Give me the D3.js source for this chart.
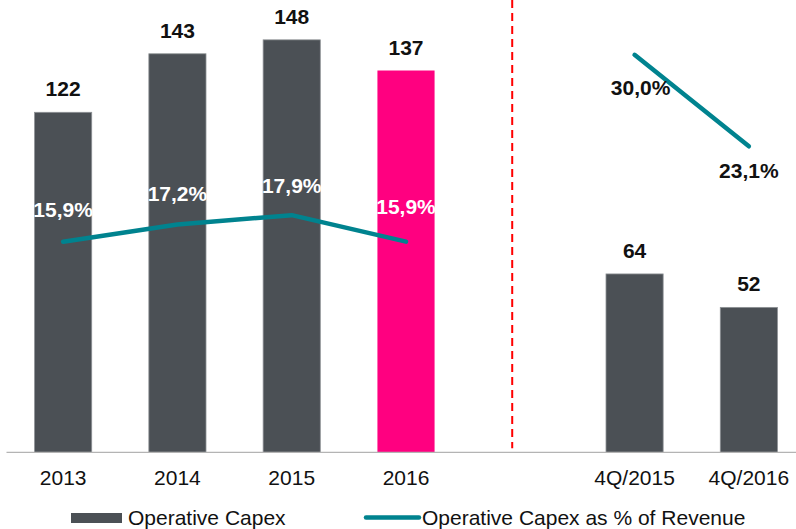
<!DOCTYPE html>
<html>
<head>
<meta charset="utf-8">
<script src="https://cdn.jsdelivr.net/npm/d3@7"></script>
<style>
  html, body { margin: 0; padding: 0; background: #fff; }
  svg text { font-family: Arial, "Liberation Sans", sans-serif; }
</style>
</head>
<body>
<div id="chart"></div>
<script>
// chart values
var categories = ["2013", "2014", "2015", "2016", "4Q/2015", "4Q/2016"];
var periods = ["year", "year", "year", "year", "quarter", "quarter"];
var capex = [122, 143, 148, 137, 64, 52];
var capexPct = [15.9, 17.2, 17.9, 15.9, 30.0, 23.1];
var highlight = "2016";
var legendLabels = ["Operative Capex", "Operative Capex as % of Revenue"];

var width = 796, height = 529;
var baseY = 452.3;

var barColor = "#4b5055", pinkColor = "#ff0080", tealColor = "#00838f";

// slots along x, with an empty one between the years and the quarters
var slots = categories.slice(0, 4).concat(["gap"], categories.slice(4));

var x = d3.scaleBand()
    .domain(slots)
    .range([6, 806])
    .paddingInner(0.5)
    .paddingOuter(0.25);

var y = d3.scaleLinear().domain([0, 162.3]).range([baseY, 0]);
var yPct = d3.scaleLinear().domain([0, 34.14]).range([baseY, 0]);

var locale = d3.formatLocale({decimal: ",", thousands: ".", grouping: [3], currency: ["", "€"]});
var fmtPct = locale.format(".1f");

var rows = categories.map(function(c, i) {
    return {cat: c, period: periods[i], value: capex[i], pct: capexPct[i]};
});

var svg = d3.select("#chart")
    .append("svg")
    .attr("width", width)
    .attr("height", height);

// bars
svg.append("g")
    .selectAll("rect")
    .data(rows)
    .enter().append("rect")
    .attr("x", function(d) { return x(d.cat); })
    .attr("y", function(d) { return y(d.value); })
    .attr("width", x.bandwidth())
    .attr("height", function(d) { return baseY - y(d.value); })
    .attr("fill", function(d) { return d.cat === highlight ? pinkColor : barColor; })
    .attr("stroke", function(d) { return d.cat === highlight ? "none" : "#8d9194"; })
    .attr("stroke-width", 0.8);

// baseline
svg.append("line")
    .attr("x1", 6.5).attr("x2", width)
    .attr("y1", baseY).attr("y2", baseY)
    .attr("stroke", "#b4b4b4")
    .attr("stroke-width", 1.3);

// red divider
var divX = x("gap") + 20.5;
svg.append("line")
    .attr("x1", divX).attr("x2", divX)
    .attr("y1", 0).attr("y2", baseY - 4)
    .attr("stroke", "#ff0000")
    .attr("stroke-width", 2)
    .attr("stroke-dasharray", "8,5");

// x axis labels
var xAxis = d3.axisBottom(x)
    .tickValues(categories)
    .tickSize(0)
    .tickPadding(0);

var axisG = svg.append("g")
    .attr("transform", "translate(0," + baseY + ")")
    .call(xAxis);
axisG.select(".domain").remove();
axisG.selectAll("text")
    .attr("y", 33)
    .attr("dy", 0)
    .style("font-size", "21px")
    .style("fill", "#111");

// value labels
svg.append("g")
    .selectAll("text")
    .data(rows)
    .enter().append("text")
    .attr("x", function(d) { return x(d.cat) + x.bandwidth() / 2; })
    .attr("y", function(d) { return y(d.value) - 16; })
    .attr("text-anchor", "middle")
    .style("font-size", "21px")
    .style("font-weight", "bold")
    .style("fill", "#111")
    .text(function(d) { return d.value; });

// percentage lines, one per period
var line = d3.line()
    .x(function(d) { return x(d.cat) + x.bandwidth() / 2; })
    .y(function(d) { return yPct(d.pct); });

["year", "quarter"].forEach(function(p) {
    svg.append("path")
        .datum(rows.filter(function(d) { return d.period === p; }))
        .attr("d", line)
        .attr("fill", "none")
        .attr("stroke", tealColor)
        .attr("stroke-width", 4.5)
        .attr("stroke-linecap", "round")
        .attr("stroke-linejoin", "round");
});

// percentage labels
var yearDy = [-24.5, -23, -22, -28];
svg.append("g")
    .selectAll("text")
    .data(rows)
    .enter().append("text")
    .attr("x", function(d, i) {
        var cx = x(d.cat) + x.bandwidth() / 2;
        return d.period === "quarter" && i === 4 ? cx + 6 : cx;
    })
    .attr("y", function(d, i) {
        var py = yPct(d.pct);
        if (d.period === "year") return py + yearDy[i];
        return i === 4 ? py + 40 : py + 32;
    })
    .attr("text-anchor", "middle")
    .style("font-size", "21px")
    .style("font-weight", "bold")
    .style("fill", function(d) { return d.period === "year" ? "#fff" : "#111"; })
    .text(function(d) { return fmtPct(d.pct) + "%"; });

// legend
var legend = svg.append("g");
legend.append("rect")
    .attr("x", 71).attr("y", 513)
    .attr("width", 51).attr("height", 10)
    .attr("fill", barColor);
legend.append("text")
    .attr("x", 128).attr("y", 525)
    .style("font-size", "21px")
    .style("fill", "#111")
    .text(legendLabels[0]);
legend.append("line")
    .attr("x1", 366).attr("x2", 419)
    .attr("y1", 517.5).attr("y2", 517.5)
    .attr("stroke", tealColor)
    .attr("stroke-width", 4.5)
    .attr("stroke-linecap", "round");
legend.append("text")
    .attr("x", 422).attr("y", 525)
    .style("font-size", "21px")
    .style("fill", "#111")
    .text(legendLabels[1]);
</script>
</body>
</html>
